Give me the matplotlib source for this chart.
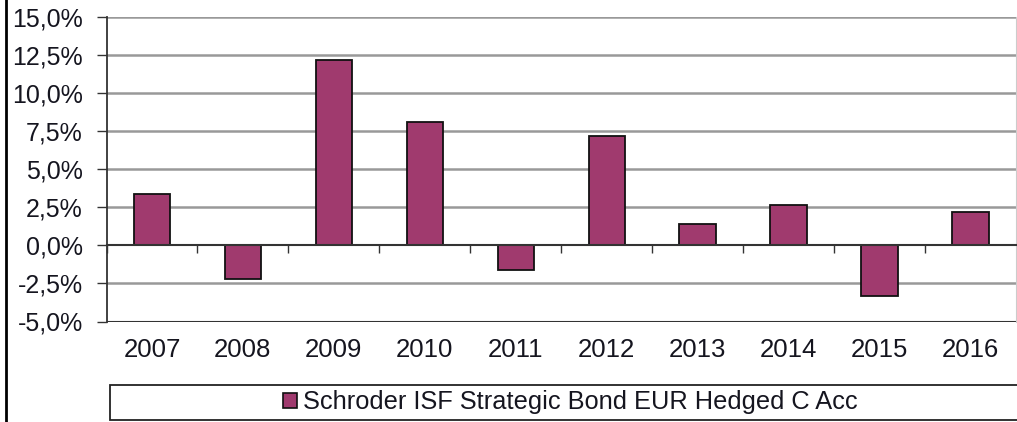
import matplotlib
matplotlib.use("Agg")
import matplotlib.pyplot as plt
from matplotlib.patches import Rectangle, Patch
from matplotlib.lines import Line2D
import matplotlib.transforms as mtransforms

years = ["2007", "2008", "2009", "2010", "2011", "2012", "2013", "2014", "2015", "2016"]
returns = [3.4, -2.2, 12.15, 8.1, -1.65, 7.2, 1.4, 2.65, -3.3, 2.2]
series_name = "Schroder ISF Strategic Bond EUR Hedged C Acc"
y_ticks = [-5.0, -2.5, 0.0, 2.5, 5.0, 7.5, 10.0, 12.5, 15.0]

W, H = 1017, 422
plt.rcParams['font.family'] = ['Liberation Sans', 'DejaVu Sans']
fig = plt.figure(figsize=(W / 100, H / 100), dpi=100)

left, right, top, bottom = 106.5, 1016.0, 17.0, 321.5
ax = fig.add_axes([left / W, 1 - bottom / H, (right - left) / W, (bottom - top) / H])

bar_color = "#A03A6E"
text_color = "#15151f"
x = list(range(len(years)))
ax.bar(x, returns, width=0.4, color=bar_color, edgecolor="#111111", linewidth=1.3, zorder=3)

ax.set_xlim(-0.5, len(years) - 0.5)
ax.set_ylim(y_ticks[0], y_ticks[-1])
ax.set_yticks(y_ticks)
ax.set_yticklabels([f"{v:.1f}%".replace(".", ",") for v in y_ticks], fontsize=18.0, color=text_color)
ax.tick_params(axis='y', direction='out', length=7, width=1, color="#333333", pad=10)

for v in y_ticks:
    if v not in (0.0, y_ticks[0]):
        ax.axhline(v, color="#999999", linewidth=1.8, zorder=1)
ax.axhline(y_ticks[0], color="#333333", linewidth=1.5, zorder=2)

# x axis at zero with ticks at category boundaries
ax.spines['bottom'].set_position(('data', 0))
ax.spines['bottom'].set_color("#333333")
ax.spines['bottom'].set_linewidth(1.5)
ax.spines['bottom'].set_zorder(4)
ax.set_xticks([i + 0.5 for i in range(len(years) - 1)] + [-0.5])
ax.set_xticklabels([])
ax.tick_params(axis='x', direction='out', length=6, width=1, color="#333333")
ax.spines['left'].set_color("#333333")
ax.spines['left'].set_linewidth(1.3)
ax.spines['top'].set_visible(False)
ax.spines['right'].set_color("#cccccc")

trans = mtransforms.blended_transform_factory(ax.transData, ax.transAxes)
for i, yr in enumerate(years):
    ax.text(i, -0.095, yr, transform=trans, ha='center', va='center', fontsize=18.5, color=text_color)

# frame line on the left
fig.add_artist(Line2D([5.5 / W, 5.5 / W], [0, 1], transform=fig.transFigure, color="black", linewidth=2))

# legend box
box = Rectangle((110 / W, 1 - 420 / H), (W + 20 - 110) / W, 35 / H, transform=fig.transFigure,
                facecolor="white", edgecolor="#222222", linewidth=1.3)
fig.add_artist(box)
handle = Patch(facecolor=bar_color, edgecolor="#111111", linewidth=1.2)
fig.legend([handle], [series_name], loc='center', bbox_to_anchor=(570 / W, 1 - 402.5 / H),
           frameon=False, fontsize=18.3, handlelength=0.55, handleheight=0.55, handletextpad=0.25,
           borderpad=0, labelcolor=text_color)

fig.savefig("out.png", dpi=100)
